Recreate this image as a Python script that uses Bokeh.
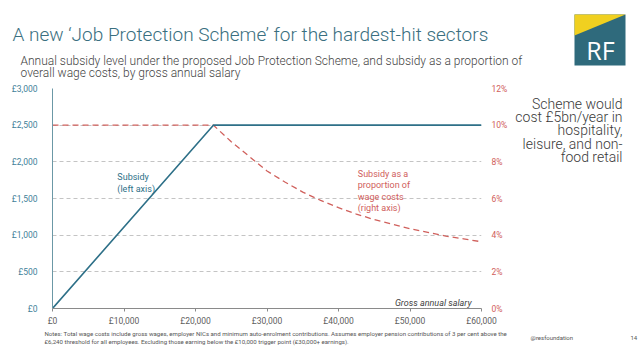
from bokeh.plotting import figure
from bokeh.models import Range1d, LinearAxis, FixedTicker, Label
from bokeh.layouts import column, row
from bokeh.core.properties import value
from bokeh.embed import file_html
from bokeh.resources import INLINE

# ---- data ----
salary_subsidy = [0, 22500, 60000]
subsidy = [0, 2500, 2500]

salary_pct = [0, 22500, 25000, 27500, 30000, 32500, 35000, 37500, 40000,
              42500, 45000, 47500, 50000, 52500, 55000, 57500, 60000]
subsidy_pct = [10.0, 10.0, 9.1, 8.3, 7.5, 6.9, 6.35, 5.9, 5.5,
               5.15, 4.85, 4.6, 4.35, 4.15, 3.95, 3.8, 3.64]

x_ticks = [0, 10000, 20000, 30000, 40000, 50000, 60000]
x_tick_labels = ["£0", "£10,000", "£20,000", "£30,000", "£40,000", "£50,000", "£60,000"]
y_ticks = [0, 500, 1000, 1500, 2000, 2500, 3000]
y_tick_labels = ["£0", "£500", "£1,000", "£1,500", "£2,000", "£2,500", "£3,000"]
pct_ticks = [0, 2, 4, 6, 8, 10, 12]
pct_tick_labels = ["0%", "2%", "4%", "6%", "8%", "10%", "12%"]

title_text = "A new \u2018Job Protection Scheme\u2019 for the hardest-hit sectors"
subtitle_lines = ["Annual subsidy level under the proposed Job Protection Scheme, and subsidy as a proportion of",
                  "overall wage costs, by gross annual salary"]
side_lines = ["Scheme would", "cost \u00a35bn/year in", "hospitality,", "leisure, and non-", "food retail"]
left_series_label = ["Subsidy", "(left axis)"]
right_series_label = ["Subsidy as a", "proportion of", "wage costs", "(right axis)"]
note_lines = ["Notes: Total wage costs include gross wages, employer NICs and minimum auto-enrolment contributions. "
              "Assumes employer pension contributions of 3 per cent above the",
              "\u00a36,240 threshold for all employees. Excluding those earning below the \u00a310,000 trigger point (\u00a330,000+ earnings)."]

TEAL = "#2e7088"
RED = "#d0605c"
FONT = "Roboto"
LIGHT = "Roboto Light, Roboto"
PAGE_W, PAGE_H = 638, 359
TOP_H = 80
MID_BOTTOM = 328
CHART_W = 510


def blank(x0, x1, y0, y1):
    f = figure(width=x1 - x0, height=y1 - y0, output_backend="svg", toolbar_location=None,
               x_range=Range1d(x0, x1), y_range=Range1d(y1, y0),
               x_axis_type=None, y_axis_type=None,
               min_border=0, min_border_left=0, min_border_right=0,
               min_border_top=0, min_border_bottom=0,
               outline_line_color=None, background_fill_color="white",
               border_fill_color="white")
    f.grid.visible = False
    return f


def txt(f, x, y, text, size, color, align="left", baseline="middle", style="normal", font=FONT):
    f.text(x=[x], y=[y], text=[text], text_font=value(font), text_font_size=value(size),
           text_color=color, text_align=align, text_baseline=baseline, text_font_style=style)


# ---- header ----
head = blank(0, PAGE_W, 0, TOP_H)
txt(head, 12, 34, title_text, "19px", "#3a6f80", font=LIGHT)
for i, t in enumerate(subtitle_lines):
    txt(head, 20, 60 + i * 12.5, t, "12px", "#454545", font=LIGHT)
head.patch([574, 625, 625, 574], [14, 14, 65, 65], fill_color="#2f6a7c", line_color=None)
head.patch([574, 625, 574], [14, 14, 35], fill_color="#f0d020", line_color=None)
txt(head, 600, 49, "RF", "25px", "white", align="center", baseline="middle", font="Open Sans")

# ---- chart ----
p = figure(width=CHART_W, height=MID_BOTTOM - TOP_H, output_backend="svg", toolbar_location=None,
           x_range=Range1d(0, 60000), y_range=Range1d(0, 3000),
           min_border_left=52, min_border_right=CHART_W - 482,
           min_border_top=88 - TOP_H, min_border_bottom=MID_BOTTOM - 310,
           background_fill_color="white", border_fill_color="white", outline_line_color=None)
p.extra_y_ranges = {"pct": Range1d(0, 12)}

p.xaxis.ticker = FixedTicker(ticks=x_ticks)
p.xaxis.major_label_overrides = dict(zip(x_ticks, x_tick_labels))
p.xaxis.axis_line_color = "#8a8a8a"
p.xaxis.major_tick_line_color = "#8a8a8a"
p.xaxis.major_tick_out = 3
p.xaxis.major_tick_in = 0
p.xaxis.minor_tick_line_color = None
p.xaxis.major_label_text_color = "#606060"
p.xaxis.major_label_text_font = FONT
p.xaxis.major_label_text_font_size = "8.5px"
p.xaxis.major_label_standoff = 4

p.yaxis.ticker = FixedTicker(ticks=y_ticks)
p.yaxis.major_label_overrides = dict(zip(y_ticks, y_tick_labels))
p.yaxis.axis_line_color = "#6b98a6"
p.yaxis.major_tick_line_color = None
p.yaxis.minor_tick_line_color = None
p.yaxis.major_label_text_color = "#3f8199"
p.yaxis.major_label_text_font = FONT
p.yaxis.major_label_text_font_size = "8.5px"
p.yaxis.major_label_standoff = 9

raxis = LinearAxis(y_range_name="pct", ticker=FixedTicker(ticks=pct_ticks))
raxis.major_label_overrides = dict(zip(pct_ticks, pct_tick_labels))
raxis.axis_line_color = None
raxis.major_tick_line_color = None
raxis.minor_tick_line_color = None
raxis.major_label_text_color = RED
raxis.major_label_text_font = FONT
raxis.major_label_text_font_size = "8.5px"
raxis.major_label_standoff = 4
p.add_layout(raxis, "right")

p.xgrid.grid_line_color = None
p.ygrid.ticker = FixedTicker(ticks=y_ticks)
p.ygrid.grid_line_color = "#c4c4c4"
p.ygrid.grid_line_dash = "4 3"
p.ygrid.grid_line_width = 1

p.line(salary_pct, subsidy_pct, y_range_name="pct", line_color=RED,
       line_width=1.3, line_dash="6 4")
p.line(salary_subsidy, subsidy, line_color=TEAL, line_width=1.6)


def dx(px):
    return (px - 52) * 60000 / 430.0


def dy(py):
    return (310 - py) * 3000 / 222.0


def lab(text, x, y, size, color, align="left", style="normal"):
    p.add_layout(Label(x=dx(x), y=dy(y), text=text, text_font=FONT, text_font_size=size,
                       text_color=color, text_align=align, text_baseline="middle",
                       text_font_style=style))


for i, t in enumerate(left_series_label):
    lab(t, 117, 177 + i * 12, "9px", TEAL)
for i, t in enumerate(right_series_label):
    lab(t, 358, 174 + i * 11.5, "9px", RED)
lab("Gross annual salary", 472, 304, "9px", "#444444", align="right", style="italic")

# ---- side annotation ----
side = blank(CHART_W, PAGE_W, TOP_H, MID_BOTTOM)
for i, t in enumerate(side_lines):
    txt(side, 622, 97 + i * 15, t, "14px", "#3a3a3a", align="right", font=LIGHT)

# ---- footer ----
foot = blank(0, PAGE_W, MID_BOTTOM, PAGE_H)
for i, t in enumerate(note_lines):
    txt(foot, 44, 333 + i * 8, t, "6.1px", "#555555")
txt(foot, 530, 337, "@resfoundation", "6px", "#555555")
txt(foot, 630, 337, "14", "6px", "#555555")

layout = column(head, row(p, side), foot)
open("out.html", "w").write(file_html(layout, INLINE))
